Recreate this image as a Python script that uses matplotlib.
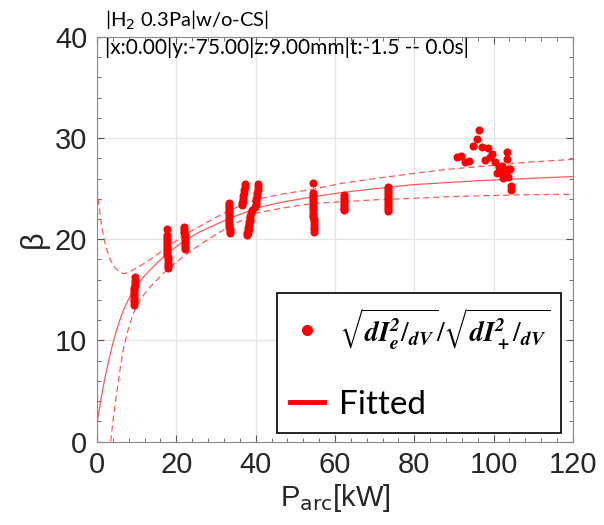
import numpy as np
import matplotlib
matplotlib.use("Agg")
import matplotlib.pyplot as plt
from matplotlib.lines import Line2D
from matplotlib.ticker import MultipleLocator

#-measured points, one streak per arc power setting
x1 = [9.3, 9.3, 9.35, 9.35, 9.4, 9.4, 9.4, 9.45, 9.45, 9.5, 9.5, 9.55, 9.55, 9.6]
y1 = [13.5, 13.8, 14.0, 14.2, 14.4, 14.6, 14.8, 15.0, 15.2, 15.4, 15.6, 15.8, 16.0, 16.3]
x2 = [17.7, 17.6, 17.6, 17.6, 17.65, 17.65, 17.7, 17.7, 17.7, 17.75, 17.75, 17.75, 17.8, 17.8, 17.8, 17.8, 17.85, 17.85]
y2 = [21.0, 20.4, 20.2, 20.0, 19.8, 19.6, 19.4, 19.2, 19.0, 18.8, 18.6, 18.4, 18.2, 18.0, 17.8, 17.6, 17.4, 17.2]
x3 = [22.0, 22.0, 22.05, 22.05, 22.1, 22.1, 22.1, 22.15, 22.15, 22.2, 22.2, 22.2]
y3 = [21.2, 21.0, 20.8, 20.6, 20.4, 20.2, 20.0, 19.8, 19.6, 19.4, 19.2, 19.0]
x4 = [33.2, 33.2, 33.25, 33.25, 33.3, 33.3, 33.3, 33.3, 33.35, 33.35, 33.4, 33.4, 33.4, 33.45, 33.45, 33.5]
y4 = [23.6, 23.4, 23.2, 23.0, 22.8, 22.6, 22.4, 22.2, 22.0, 21.8, 21.6, 21.4, 21.2, 21.0, 20.8, 20.6]
x5 = [37.3, 37.2, 37.1, 37.0, 36.9, 36.8, 36.7, 36.6, 36.5,
      40.7, 40.6, 40.5, 40.4, 40.3, 40.2, 40.1, 40.0, 39.8,
      39.0, 38.9, 38.7, 38.6, 38.4, 38.3, 38.1, 38.0, 37.8, 37.7,
      38.6, 38.4, 38.2, 38.0]
y5 = [25.5, 25.2, 24.9, 24.6, 24.3, 24.0, 23.8, 23.6, 23.4,
      25.5, 25.2, 24.9, 24.6, 24.3, 24.0, 23.8, 23.5, 23.2,
      22.9, 22.6, 22.3, 22.0, 21.7, 21.4, 21.1, 20.8, 20.6, 20.4,
      21.8, 21.4, 21.0, 20.6]
x6 = [54.4, 54.5, 54.5, 54.45, 54.5, 54.55, 54.5, 54.45, 54.5, 54.55, 54.5, 54.5, 54.55, 54.6, 54.6, 54.6, 54.65, 54.7, 54.7]
y6 = [25.6, 24.6, 24.4, 24.2, 24.0, 23.8, 23.5, 23.3, 23.1, 22.9, 22.6, 22.4, 22.2, 22.0, 21.8, 21.5, 21.2, 21.0, 20.75]
x7 = [62.2, 62.2, 62.3, 62.3, 62.3, 62.35, 62.35, 62.4, 62.4]
y7 = [24.4, 24.2, 24.0, 23.8, 23.6, 23.4, 23.2, 23.0, 22.9]
x8 = [73.4, 73.3, 73.3, 73.35, 73.35, 73.4, 73.4, 73.4, 73.35, 73.35, 73.3, 73.3, 73.35]
y8 = [25.2, 25.0, 24.8, 24.6, 24.4, 24.2, 24.0, 23.8, 23.6, 23.4, 23.2, 23.0, 22.8]
x9 = [90.7, 91.7, 92.8, 93.8, 94.7, 95.7, 96.4, 97.1, 97.9, 98.6, 99.2, 99.7, 100.3, 100.8,
      101.3, 102.0, 102.4, 102.7, 103.3, 103.3, 103.5, 103.7, 104.1, 104.3, 104.4, 103.1, 101.6]
y9 = [28.1, 28.2, 27.6, 27.7, 29.2, 29.9, 30.8, 29.1, 27.8, 29.0, 28.1, 28.4, 27.6, 26.6,
      27.1, 27.2, 26.1, 26.9, 28.6, 27.9, 26.9, 26.2, 26.95, 25.3, 24.9, 26.6, 26.8]

#-fitted curve and confidence bounds
xfit = [0.0, 1.0, 2.0, 3.0, 4.0, 5.0, 6.0, 7.0, 8.0, 9.0, 10.0, 12.0, 15.0, 17.7, 21.8, 26.0, 33.0,
        40.3, 47.0, 54.5, 61.3, 70.0, 79.7, 88.0, 96.5, 108.0, 120.0]
yfit = [1.8, 4.2, 6.3, 8.1, 9.7, 11.1, 12.3, 13.3, 14.1, 14.8, 15.4, 16.4, 17.6, 18.6, 19.8, 20.75, 22.0,
        23.1, 23.7, 24.2, 24.6, 25.0, 25.4, 25.6, 25.8, 26.0, 26.2]
xup = [0.0, 0.6, 1.2, 2.2, 3.3, 4.5, 5.5, 6.6, 8.0, 9.2, 11.0, 13.4, 17.7, 21.8, 26.0, 33.0, 40.3,
       47.0, 54.5, 61.3, 70.0, 79.7, 88.0, 96.5, 108.0, 120.0]
yup = [25.0, 23.0, 21.2, 19.3, 18.0, 17.2, 16.8, 16.6, 16.7, 17.0, 17.4, 18.0, 19.2, 20.4, 21.3, 22.8, 23.95,
       24.5, 24.95, 25.5, 26.0, 26.5, 26.9, 27.2, 27.6, 27.9]
xlo = [3.45, 4.2, 4.96, 5.8, 6.6, 7.8, 9.2, 11.0, 13.4, 17.7, 21.8, 26.0, 33.0, 40.3, 47.0, 54.5,
       61.3, 70.0, 79.7, 88.0, 96.5, 108.0, 120.0]
ylo = [0.0, 2.6, 4.8, 7.1, 9.05, 11.0, 12.7, 14.1, 15.3, 17.0, 18.3, 19.5, 21.2, 22.6, 23.1, 23.55,
       23.7, 23.9, 24.05, 24.2, 24.3, 24.4, 24.45]

xticks = [0, 20, 40, 60, 80, 100, 120]
yticks = [0, 10, 20, 30, 40]

title1 = r"|H$_2$ 0.3Pa|w/o-CS|"
title2 = "|x:0.00|y:-75.00|z:9.00mm|t:-1.5 -- 0.0s|"
lab_pts = r"$\sqrt{\mathbfit{dI_e^2}/_{\mathbfit{dV}}}/\sqrt{\mathbfit{dI_+^2}/_{\mathbfit{dV}}}$"
lab_fit = "Fitted"

plt.rcParams["mathtext.fontset"] = "stix"
sans = ["Liberation Sans Narrow", "Liberation Sans"]

fig = plt.figure(figsize=(6.04, 5.25), dpi=100)
ax = fig.add_axes([0.1606, 0.159, 0.788, 0.7705])

xs = x1 + x2 + x3 + x4 + x5 + x6 + x7 + x8 + x9
ys = y1 + y2 + y3 + y4 + y5 + y6 + y7 + y8 + y9
ax.plot(xs, ys, "o", color="red", ms=4.8, mec="red", zorder=3)

fitc = "#ff5a5a"
ax.plot(xfit, yfit, "-", color=fitc, lw=0.9)
ax.plot(xup, yup, "--", color=fitc, lw=0.9, dashes=(5, 3))
ax.plot(xlo, ylo, "--", color=fitc, lw=0.9, dashes=(5, 3))

ax.set_xlim(0, 120)
ax.set_ylim(0, 40)
ax.set_xticks(xticks)
ax.set_yticks(yticks)
ax.xaxis.set_minor_locator(MultipleLocator(4))
ax.yaxis.set_minor_locator(MultipleLocator(2))
ax.tick_params(which="both", direction="in", top=True, right=True, color="#555555")
ax.tick_params(which="major", length=5, labelsize=21, labelcolor="#262626", pad=7)
ax.tick_params(which="minor", length=3)
for lab in ax.get_xticklabels() + ax.get_yticklabels():
    lab.set_family(sans)
ax.grid(True, which="major", color="#e4e4e4", lw=0.9)
ax.set_axisbelow(True)
for s in ax.spines.values():
    s.set_color("#888888")

ax.set_xlabel(r"P$_{\mathrm{arc}}$[kW]", fontsize=21, color="#262626", family=sans,
              labelpad=2, math_fontfamily="dejavusans")
ax.set_ylabel("β", fontsize=22, color="#262626", family=sans, labelpad=4)

fig.text(0.174, 0.962, title1, fontsize=14.5, family="Lato", va="center",
         math_fontfamily="dejavusans")
fig.text(0.174, 0.909, title2, fontsize=15, family="Lato", va="center")

handles = [Line2D([], [], ls="none", marker="o", color="red", ms=7),
           Line2D([], [], color="red", lw=3.5)]
leg = ax.legend(handles, [lab_pts, lab_fit], loc="lower left",
                bbox_to_anchor=(0.378, 0.021, 0.597, 0.356), mode="expand",
                borderaxespad=0, prop={"family": "Lato", "size": 24}, fancybox=False,
                edgecolor="black", framealpha=1, handlelength=1.0,
                handletextpad=0.45, borderpad=0.4, labelspacing=1.15)
leg.get_texts()[0].set_fontsize(20)
leg.get_frame().set_linewidth(1.2)

fig.savefig("out.png", dpi=100)
